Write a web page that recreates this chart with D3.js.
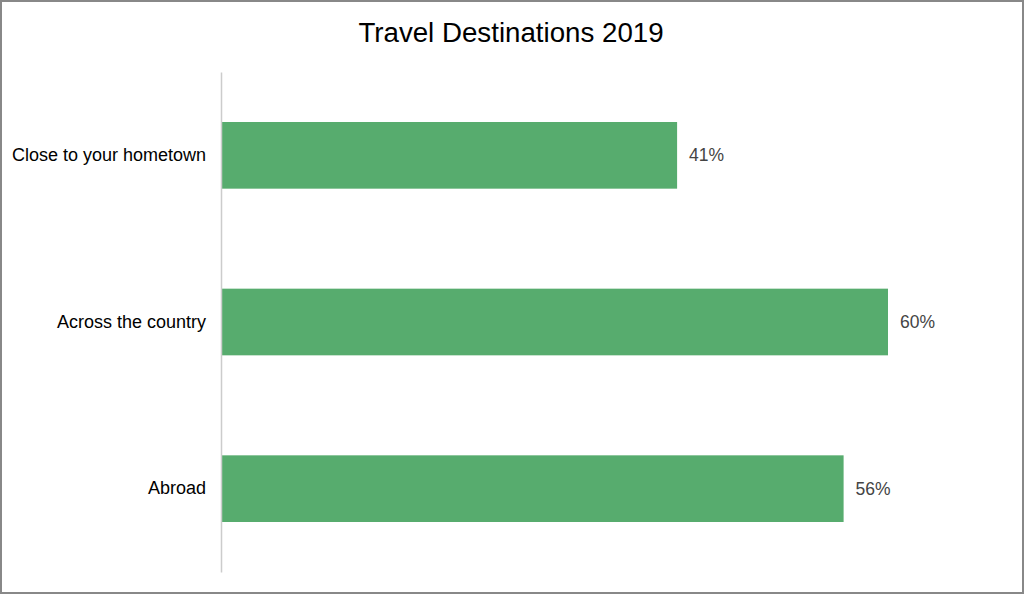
<!DOCTYPE html>
<html>
<head>
<meta charset="utf-8">
<script src="https://cdn.jsdelivr.net/npm/d3@7"></script>
<style>
  body { margin: 0; background: #fff; }
  svg { display: block; font-family: "Liberation Sans", Arial, sans-serif; }
</style>
</head>
<body>
<div id="vis"></div>
<script>
// chart data
const CATEGORIES = ["Close to your hometown", "Across the country", "Abroad"];
const VALUES = [41, 60, 56];
const TITLE = "Travel Destinations 2019";

const FRAME_WIDTH = 1024;
const FRAME_HEIGHT = 594;
const MARGINS = {left: 222, right: 136, top: 72, bottom: 22};

const X_SCALE = d3.scaleLinear()
    .domain([0, 60])
    .range([MARGINS.left, FRAME_WIDTH - MARGINS.right]);
const Y_SCALE = d3.scaleBand()
    .domain(CATEGORIES)
    .range([MARGINS.top, FRAME_HEIGHT - MARGINS.bottom])
    .paddingInner(0.6)
    .paddingOuter(0.3);

const FRAME = d3.select("#vis")
    .append("svg")
    .attr("width", FRAME_WIDTH)
    .attr("height", FRAME_HEIGHT);

// outer border
FRAME.append("rect")
    .attr("x", 1).attr("y", 1)
    .attr("width", FRAME_WIDTH - 2).attr("height", FRAME_HEIGHT - 2)
    .attr("fill", "#fff")
    .attr("stroke", "#888")
    .attr("stroke-width", 2);

// title
FRAME.append("text")
    .attr("x", 511)
    .attr("y", 42)
    .attr("text-anchor", "middle")
    .attr("font-size", "27.7px")
    .attr("fill", "#000")
    .text(TITLE);

// bars
FRAME.selectAll(".bar")
    .data(CATEGORIES)
    .enter()
    .append("rect")
    .attr("class", "bar")
    .attr("x", X_SCALE(0))
    .attr("y", (d) => Y_SCALE(d))
    .attr("width", (d, i) => X_SCALE(VALUES[i]) - X_SCALE(0))
    .attr("height", Y_SCALE.bandwidth())
    .attr("fill", "#57ac6e");

// value labels
FRAME.selectAll(".val")
    .data(CATEGORIES)
    .enter()
    .append("text")
    .attr("class", "val")
    .attr("x", (d, i) => X_SCALE(VALUES[i]) + 12)
    .attr("y", (d) => Y_SCALE(d) + Y_SCALE.bandwidth() / 2)
    .attr("dy", "0.35em")
    .attr("font-size", "17.5px")
    .attr("fill", "#444")
    .text((d, i) => VALUES[i] + "%");

// y axis
const yAxis = FRAME.append("g")
    .attr("transform", "translate(" + (MARGINS.left - 1) + ",0)")
    .call(d3.axisLeft(Y_SCALE).tickSize(0).tickPadding(15));
yAxis.select(".domain").attr("stroke", "#ccc").attr("stroke-width", 1.5);
yAxis.selectAll("text")
    .attr("font-size", "18px")
    .attr("font-family", "\"Liberation Sans\", Arial, sans-serif")
    .attr("fill", "#000");
</script>
</body>
</html>
